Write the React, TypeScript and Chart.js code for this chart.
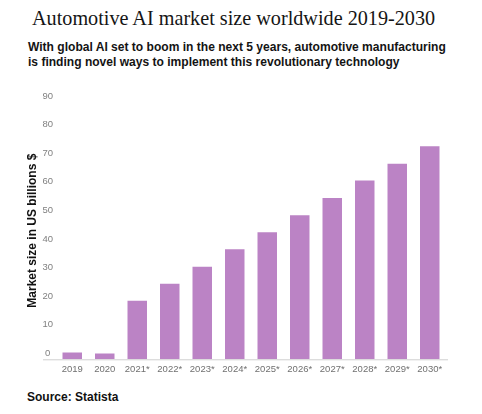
import React, { useEffect, useRef } from "react";
import { Chart, registerables } from "chart.js";

Chart.register(...registerables);

const categories = ["2019", "2020", "2021*", "2022*", "2023*", "2024*", "2025*", "2026*", "2027*", "2028*", "2029*", "2030*"];
const marketSize = [2.4, 2.0, 20.5, 26.4, 32.4, 38.5, 44.4, 50.4, 56.4, 62.5, 68.4, 74.5];
const yTicks = [0, 10, 20, 30, 40, 50, 60, 70, 80, 90];

const titleText = "Automotive AI market size worldwide 2019-2030";
const subtitleLines = [
  "With global AI set to boom in the next 5 years, automotive manufacturing",
  "is finding novel ways to implement this revolutionary technology",
];
const yAxisTitle = "Market size in US billions $";
const sourceText = "Source: Statista";

const baselinePlugin = {
  id: "baseline",
  afterDatasetsDraw(chart: any) {
    const { ctx, chartArea, scales } = chart;
    const y = scales.y.getPixelForValue(0);
    ctx.save();
    ctx.strokeStyle = "#cfcfcf";
    ctx.lineWidth = 1;
    ctx.beginPath();
    ctx.moveTo(chartArea.left - 13, y + 0.5);
    ctx.lineTo(chartArea.right + 2, y + 0.5);
    ctx.stroke();
    ctx.restore();
  },
};

function BarChart() {
  const ref = useRef<HTMLCanvasElement | null>(null);
  useEffect(() => {
    if (!ref.current) return;
    const chart = new Chart(ref.current, {
      type: "bar",
      data: {
        labels: categories,
        datasets: [
          {
            data: marketSize,
            backgroundColor: "#bb83c5",
            borderWidth: 0,
            barPercentage: 0.6,
            categoryPercentage: 1,
          },
        ],
      },
      options: {
        animation: false,
        responsive: true,
        maintainAspectRatio: false,
        layout: { padding: { top: 22, right: 36, left: 0, bottom: 0 } },
        plugins: { legend: { display: false }, tooltip: { enabled: false } },
        scales: {
          x: {
            grid: { display: false, drawTicks: false },
            border: { display: false },
            ticks: {
              color: "#707070",
              font: { family: "'Liberation Sans', Arial, sans-serif", size: 9.5 },
              padding: 4,
              maxRotation: 0,
              autoSkip: false,
            },
            afterFit: (s: any) => {
              s.height = 20.7;
            },
          },
          y: {
            min: 0,
            max: 90,
            afterBuildTicks: (s: any) => {
              s.ticks = yTicks.map((v) => ({ value: v }));
            },
            grid: { display: false, drawTicks: false },
            border: { display: false },
            ticks: {
              color: "#808080",
              font: { family: "'Liberation Sans', Arial, sans-serif", size: 9.5 },
              padding: 3,
              crossAlign: "center",
              labelOffset: -6,
            },
            title: {
              display: true,
              text: yAxisTitle,
              color: "#111",
              font: { family: "'Liberation Sans', Arial, sans-serif", size: 12, weight: "bold" },
              padding: { top: 25, bottom: 0 },
            },
            afterFit: (s: any) => {
              s.width = 56;
            },
          },
        },
      },
      plugins: [baselinePlugin],
    });
    return () => chart.destroy();
  }, []);
  return <canvas ref={ref} />;
}

export default function App() {
  return (
    <div
      style={{
        position: "fixed",
        left: 0,
        top: 0,
        width: 482,
        height: 414,
        background: "#fff",
        overflow: "hidden",
      }}
    >
      <div
        style={{
          position: "absolute",
          left: 32,
          top: 5,
          fontFamily: "'Liberation Serif', 'Times New Roman', serif",
          fontSize: 20.2,
          lineHeight: "26px",
          color: "#151515",
          whiteSpace: "nowrap",
        }}
      >
        {titleText}
      </div>
      <div
        style={{
          position: "absolute",
          left: 28,
          top: 40,
          fontFamily: "'Liberation Sans', Arial, sans-serif",
          fontWeight: "bold",
          fontSize: 12.05,
          lineHeight: "15px",
          color: "#141414",
          whiteSpace: "nowrap",
        }}
      >
        {subtitleLines.map((l, i) => (
          <div key={i}>{l}</div>
        ))}
      </div>
      <div style={{ position: "absolute", left: 0, top: 80, width: 482, height: 300 }}>
        <BarChart />
      </div>
      <div
        style={{
          position: "absolute",
          left: 27,
          top: 389,
          fontFamily: "'Liberation Sans', Arial, sans-serif",
          fontWeight: "bold",
          fontSize: 12,
          lineHeight: "16px",
          color: "#111",
          whiteSpace: "nowrap",
        }}
      >
        {sourceText}
      </div>
    </div>
  );
}
